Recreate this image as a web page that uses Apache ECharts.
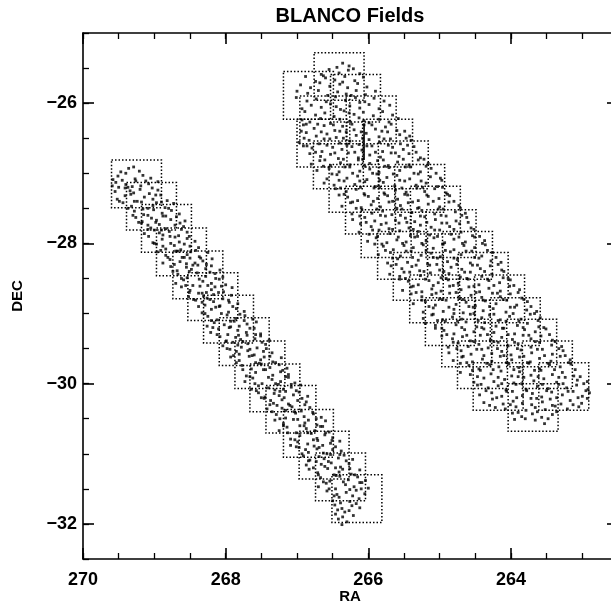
<!DOCTYPE html>
<html>
<head>
<meta charset="utf-8">
<script src="https://cdn.jsdelivr.net/npm/echarts@6/dist/echarts.min.js"></script>
<style>
  html, body { margin: 0; padding: 0; background: #fff; }
  #chart { width: 611px; height: 611px; }
</style>
</head>
<body>
<div id="chart"></div>
<script>
// Axis ranges and labelled ticks
const raRange = [262.5, 270];
const decRange = [-32.5, -25];
const raTicks = [270, 268, 266, 264];
const decTicks = [-32, -30, -28, -26];

// Field half sizes (deg RA, deg DEC)
const fieldHalfRA = 0.35;
const fieldHalfDec = 0.34;

// Field centres, eastern strip
const eastFieldRA  = [269.25, 269.04, 268.83, 268.62, 268.39, 268.18, 267.96, 267.74, 267.52, 267.31, 267.085, 266.84, 266.62, 266.39, 266.16];
const eastFieldDec = [-27.15, -27.47, -27.785, -28.12, -28.45, -28.76, -29.08, -29.40, -29.73, -30.06, -30.365, -30.71, -31.02, -31.33, -31.64];

// Field centres, western strip (inner and outer chains)
const westInnerRA  = [266.41, 266.18, 265.96, 265.73, 265.51, 265.28, 265.06, 264.84, 264.61, 264.39, 264.16, 263.94, 263.71, 263.49, 263.26];
const westInnerDec = [-25.62, -25.93, -26.24, -26.57, -26.88, -27.215, -27.525, -27.86, -28.17, -28.47, -28.79, -29.115, -29.42, -29.73, -30.04];
const westOuterRA  = [266.84, 266.61, 266.65, 266.42, 266.20, 265.97, 265.75, 265.52, 265.30, 265.07, 264.85, 264.62, 264.40, 264.18, 263.69];
const westOuterDec = [-25.89, -26.24, -26.57, -26.88, -27.215, -27.525, -27.86, -28.17, -28.47, -28.79, -29.115, -29.42, -29.73, -30.04, -30.34];

// Bleed streak in the western strip
const streakRA  = [266.06, 266.06];
const streakDec = [-26.29, -26.81];

// Stars, eastern strip [RA, DEC]
const eastStars = [
[269.36,-26.93],[269.21,-26.97],[269.47,-26.98],[269.29,-26.91],
[269.58,-27.09],[269.51,-27.04],[269.40,-27.00],[269.27,-27.08],[269.16,-27.03],[269.05,-27.07],
[269.59,-27.18],[269.54,-27.13],[269.40,-27.16],[269.26,-27.11],[269.19,-27.18],[269.08,-27.15],[268.95,-27.12],[269.31,-27.19],
[269.55,-27.26],[269.41,-27.21],[269.29,-27.28],[269.20,-27.23],[269.07,-27.29],[268.95,-27.24],[269.34,-27.25],
[269.52,-27.37],[269.41,-27.32],[269.28,-27.40],[269.14,-27.34],[269.02,-27.37],[268.91,-27.31],[268.82,-27.39],
[269.44,-27.42],[269.32,-27.47],[269.18,-27.41],[269.02,-27.46],[268.97,-27.42],[268.85,-27.49],[268.73,-27.43],[269.09,-27.50],
[269.28,-27.54],[269.15,-27.59],[269.01,-27.52],[268.89,-27.57],[268.76,-27.53],[268.65,-27.58],
[269.26,-27.63],[269.17,-27.69],[269.04,-27.64],[268.97,-27.67],[268.88,-27.61],[268.77,-27.66],[268.69,-27.62],[268.57,-27.68],
[269.18,-27.71],[269.05,-27.78],[268.93,-27.73],[268.84,-27.79],[268.71,-27.74],[268.59,-27.76],[269.09,-27.74],
[269.14,-27.86],[269.00,-27.81],[268.88,-27.88],[268.79,-27.83],[268.66,-27.89],[268.54,-27.84],[268.93,-27.85],
[269.02,-27.99],[268.89,-27.94],[268.78,-27.90],[268.65,-27.98],[268.54,-27.93],[268.43,-27.97],
[268.97,-28.01],[268.84,-28.08],[268.72,-28.03],[268.63,-28.09],[268.50,-28.04],[268.38,-28.06],[268.88,-28.04],
[268.96,-28.12],[268.84,-28.17],[268.70,-28.11],[268.54,-28.16],[268.49,-28.12],[268.37,-28.19],[268.25,-28.13],[268.61,-28.20],
[268.88,-28.28],[268.78,-28.23],[268.64,-28.26],[268.50,-28.21],[268.43,-28.28],[268.32,-28.25],[268.19,-28.22],[268.55,-28.29],
[268.77,-28.33],[268.68,-28.39],[268.55,-28.34],[268.48,-28.37],[268.39,-28.31],[268.28,-28.36],[268.20,-28.32],[268.08,-28.38],
[268.67,-28.44],[268.54,-28.49],[268.40,-28.42],[268.28,-28.47],[268.15,-28.43],[268.04,-28.48],
[268.70,-28.57],[268.59,-28.52],[268.46,-28.60],[268.32,-28.54],[268.20,-28.57],[268.09,-28.51],[268.00,-28.59],
[268.62,-28.62],[268.50,-28.67],[268.36,-28.61],[268.20,-28.66],[268.15,-28.62],[268.03,-28.69],[267.91,-28.63],[268.27,-28.70],
[268.52,-28.76],[268.38,-28.71],[268.26,-28.78],[268.17,-28.73],[268.04,-28.79],[267.92,-28.74],[268.31,-28.75],
[268.42,-28.81],[268.29,-28.88],[268.17,-28.83],[268.08,-28.89],[267.95,-28.84],[267.83,-28.86],[268.33,-28.84],
[268.33,-28.99],[268.20,-28.94],[268.09,-28.90],[267.96,-28.98],[267.85,-28.93],[267.74,-28.97],
[268.25,-29.04],[268.12,-29.09],[267.98,-29.02],[267.86,-29.07],[267.73,-29.03],[267.62,-29.08],
[268.26,-29.18],[268.16,-29.13],[268.02,-29.16],[267.88,-29.11],[267.81,-29.18],[267.70,-29.15],[267.57,-29.12],[267.93,-29.19],
[268.21,-29.27],[268.10,-29.22],[267.97,-29.30],[267.83,-29.24],[267.71,-29.27],[267.60,-29.21],[267.51,-29.29],
[268.08,-29.33],[267.99,-29.39],[267.86,-29.34],[267.79,-29.37],[267.70,-29.31],[267.59,-29.36],[267.51,-29.32],[267.39,-29.38],
[268.04,-29.46],[267.90,-29.41],[267.78,-29.48],[267.69,-29.43],[267.56,-29.49],[267.44,-29.44],[267.83,-29.45],
[267.94,-29.51],[267.81,-29.58],[267.69,-29.53],[267.60,-29.59],[267.47,-29.54],[267.35,-29.56],[267.85,-29.54],
[267.93,-29.62],[267.81,-29.67],[267.67,-29.61],[267.51,-29.66],[267.46,-29.62],[267.34,-29.69],[267.22,-29.63],[267.58,-29.70],
[267.77,-29.74],[267.64,-29.79],[267.50,-29.72],[267.38,-29.77],[267.25,-29.73],[267.14,-29.78],
[267.71,-29.89],[267.58,-29.84],[267.47,-29.80],[267.34,-29.88],[267.23,-29.83],[267.12,-29.87],
[267.73,-29.97],[267.62,-29.92],[267.49,-30.00],[267.35,-29.94],[267.23,-29.97],[267.12,-29.91],[267.03,-29.99],
[267.64,-30.08],[267.54,-30.03],[267.40,-30.06],[267.26,-30.01],[267.19,-30.08],[267.08,-30.05],[266.95,-30.02],[267.31,-30.09],
[267.54,-30.13],[267.45,-30.19],[267.32,-30.14],[267.25,-30.17],[267.16,-30.11],[267.05,-30.16],[266.97,-30.12],[266.85,-30.18],
[267.46,-30.21],[267.33,-30.28],[267.21,-30.23],[267.12,-30.29],[266.99,-30.24],[266.87,-30.26],[267.37,-30.24],
[267.42,-30.36],[267.28,-30.31],[267.16,-30.38],[267.07,-30.33],[266.94,-30.39],[266.82,-30.34],[267.21,-30.35],
[267.29,-30.44],[267.16,-30.49],[267.02,-30.42],[266.90,-30.47],[266.77,-30.43],[266.66,-30.48],
[267.31,-30.52],[267.19,-30.57],[267.05,-30.51],[266.89,-30.56],[266.84,-30.52],[266.72,-30.59],[266.60,-30.53],[266.96,-30.60],
[267.25,-30.67],[267.14,-30.62],[267.01,-30.70],[266.87,-30.64],[266.75,-30.67],[266.64,-30.61],[266.55,-30.69],
[267.09,-30.79],[266.96,-30.74],[266.85,-30.70],[266.72,-30.78],[266.61,-30.73],[266.50,-30.77],
[267.09,-30.88],[266.99,-30.83],[266.85,-30.86],[266.71,-30.81],[266.64,-30.88],[266.53,-30.85],[266.40,-30.82],[266.76,-30.89],
[266.97,-30.91],[266.84,-30.98],[266.72,-30.93],[266.63,-30.99],[266.50,-30.94],[266.38,-30.96],[266.88,-30.94],
[266.91,-31.03],[266.82,-31.09],[266.69,-31.04],[266.62,-31.07],[266.53,-31.01],[266.42,-31.06],[266.34,-31.02],[266.22,-31.08],
[266.87,-31.16],[266.73,-31.11],[266.61,-31.18],[266.52,-31.13],[266.39,-31.19],[266.27,-31.14],[266.66,-31.15],
[266.83,-31.22],[266.71,-31.27],[266.57,-31.21],[266.41,-31.26],[266.36,-31.22],[266.24,-31.29],[266.12,-31.23],[266.48,-31.30],
[266.67,-31.34],[266.54,-31.39],[266.40,-31.32],[266.28,-31.37],[266.15,-31.33],[266.04,-31.38],
[266.70,-31.47],[266.59,-31.42],[266.46,-31.50],[266.32,-31.44],[266.20,-31.47],[266.09,-31.41],[266.00,-31.49],
[266.58,-31.53],[266.44,-31.58],[266.31,-31.55],[266.17,-31.52],[266.05,-31.57],
[266.50,-31.67],[266.41,-31.62],[266.26,-31.68],[266.13,-31.64],
[266.47,-31.73],[266.37,-31.78],[266.23,-31.74],[266.12,-31.77],
[266.46,-31.86],[266.33,-31.83],[266.21,-31.88],
[266.42,-31.93],[266.30,-31.97],[266.37,-32.01]
];

// Further stars, eastern strip, between the rows above
const eastStarsFaint = [
[269.45,-27.10],[269.12,-27.11],[269.37,-27.20],[269.03,-27.21],[269.50,-27.20],[269.33,-27.30],[268.98,-27.31],
[269.49,-27.40],[269.24,-27.40],[268.90,-27.41],[269.37,-27.50],[269.16,-27.51],[268.80,-27.50],
[269.30,-27.60],[269.09,-27.60],[268.84,-27.61],[269.22,-27.70],[268.98,-27.70],[268.64,-27.71],
[269.09,-27.80],[268.90,-27.81],[268.62,-27.80],[269.08,-27.90],[268.71,-27.91],[268.51,-27.90],
[269.00,-28.00],[268.77,-28.00],[268.58,-28.01],[268.91,-28.10],[268.67,-28.11],[268.42,-28.10],
[268.81,-28.20],[268.58,-28.20],[268.35,-28.21],[268.72,-28.30],[268.46,-28.31],[268.27,-28.30],
[268.74,-28.40],[268.51,-28.40],[268.22,-28.41],[268.62,-28.50],[268.37,-28.51],[268.14,-28.50],
[268.56,-28.60],[268.25,-28.60],[268.06,-28.61],[268.51,-28.70],[268.33,-28.71],[268.10,-28.70],
[268.45,-28.80],[268.22,-28.80],[267.96,-28.81],[268.38,-28.90],[268.14,-28.91],[267.90,-28.90],
[268.29,-29.00],[268.06,-29.00],[267.80,-29.01],[268.20,-29.10],[267.93,-29.11],[267.74,-29.10],
[268.18,-29.20],[267.95,-29.20],[267.66,-29.21],[268.12,-29.30],[267.82,-29.31],[267.58,-29.30],
[268.00,-29.40],[267.76,-29.40],[267.49,-29.41],[267.98,-29.50],[267.66,-29.51],[267.43,-29.50],
[267.89,-29.60],[267.63,-29.60],[267.38,-29.61],[267.85,-29.70],[267.53,-29.71],[267.30,-29.70],
[267.76,-29.80],[267.44,-29.80],[267.20,-29.81],[267.66,-29.90],[267.40,-29.91],[267.16,-29.90],
[267.59,-30.00],[267.30,-30.00],[267.08,-30.01],[267.57,-30.10],[267.24,-30.11],[267.01,-30.10],
[267.50,-30.20],[267.18,-30.20],[266.93,-30.21],[267.38,-30.30],[267.10,-30.31],[266.89,-30.30],
[267.35,-30.40],[267.04,-30.40],[266.78,-30.41],[267.24,-30.50],[266.99,-30.51],[266.73,-30.50],
[267.19,-30.60],[266.90,-30.60],[266.67,-30.61],[267.13,-30.70],[266.80,-30.71],[266.60,-30.70],
[267.03,-30.80],[266.77,-30.80],[266.51,-30.81],[267.01,-30.90],[266.69,-30.91],[266.46,-30.90],
[266.93,-31.00],[266.58,-31.00],[266.40,-31.01],[266.84,-31.10],[266.56,-31.11],[266.31,-31.10],
[266.77,-31.20],[266.46,-31.20],[266.26,-31.21],[266.70,-31.30],[266.45,-31.31],[266.19,-31.30],
[266.63,-31.40],[266.35,-31.40],[266.12,-31.41],[266.55,-31.50],[266.26,-31.51],[266.10,-31.50],
[266.48,-31.60],[266.22,-31.60],[266.39,-31.70],[266.17,-31.71],[266.43,-31.80],[266.27,-31.81],[266.36,-31.90]
];

// Stars, western strip [RA, DEC]
const westStars = [
[266.27,-25.47],[266.44,-25.49],[266.36,-25.43],
[266.12,-25.58],[266.28,-25.53],[266.41,-25.57],[266.55,-25.52],[266.66,-25.59],[266.21,-25.51],
[266.07,-25.63],[266.19,-25.68],[266.33,-25.62],[266.47,-25.67],[266.60,-25.64],[266.74,-25.69],[266.88,-25.62],[266.63,-25.61],
[266.02,-25.77],[266.15,-25.72],[266.29,-25.78],[266.40,-25.73],[266.54,-25.76],[266.68,-25.71],[266.81,-25.78],[266.95,-25.74],[266.36,-25.70],
[265.90,-25.83],[266.04,-25.88],[266.17,-25.82],[266.31,-25.87],[266.43,-25.84],[266.57,-25.89],[266.70,-25.82],[266.85,-25.86],[267.00,-25.83],[266.24,-25.89],
[265.78,-25.97],[265.92,-25.93],[266.05,-25.98],[266.18,-25.92],[266.32,-25.96],[266.46,-25.91],[266.59,-25.98],[266.73,-25.94],[266.86,-25.97],[267.01,-25.92],[266.12,-25.99],
[265.70,-26.03],[265.85,-26.08],[265.99,-26.02],[266.12,-26.07],[266.26,-26.04],[266.39,-26.09],[266.53,-26.01],[266.66,-26.06],[266.80,-26.03],[266.93,-26.08],[266.45,-26.05],
[265.66,-26.17],[265.80,-26.12],[265.93,-26.18],[266.07,-26.13],[266.20,-26.16],[266.34,-26.11],[266.48,-26.19],[266.61,-26.14],[266.74,-26.17],[266.89,-26.12],[266.27,-26.14],
[265.58,-26.22],[265.71,-26.27],[265.85,-26.23],[265.99,-26.28],[266.13,-26.21],[266.26,-26.26],[266.40,-26.23],[266.53,-26.29],[266.67,-26.22],[266.82,-26.27],[266.93,-26.24],[266.06,-26.25],
[265.60,-26.39],[265.76,-26.34],[265.90,-26.37],[266.06,-26.31],[266.20,-26.38],[266.36,-26.33],[266.47,-26.39],[266.62,-26.32],[266.76,-26.36],[266.91,-26.31],
[265.56,-26.45],[265.73,-26.41],[265.85,-26.48],[266.03,-26.43],[266.17,-26.46],[266.31,-26.41],[266.45,-26.49],[266.58,-26.44],[266.73,-26.47],[266.87,-26.42],[265.42,-26.47],
[265.40,-26.53],[265.55,-26.58],[265.69,-26.51],[265.84,-26.56],[265.99,-26.52],[266.13,-26.59],[266.26,-26.54],[266.40,-26.57],[266.54,-26.51],[266.69,-26.58],[266.83,-26.53],[266.97,-26.56],
[265.36,-26.62],[265.51,-26.66],[265.66,-26.63],[265.80,-26.69],[265.95,-26.61],[266.09,-26.67],[266.23,-26.62],[266.37,-26.66],[266.50,-26.63],[266.65,-26.69],[266.79,-26.64],[266.91,-26.61],
[265.27,-26.78],[265.43,-26.72],[265.57,-26.76],[265.68,-26.71],[265.83,-26.77],[265.98,-26.74],[266.14,-26.78],[266.28,-26.71],[266.42,-26.79],[266.53,-26.73],[266.67,-26.76],[266.82,-26.72],
[265.16,-26.86],[265.30,-26.81],[265.43,-26.88],[265.59,-26.84],[265.72,-26.89],[265.87,-26.82],[265.98,-26.86],[266.14,-26.81],[266.26,-26.88],[266.39,-26.85],[266.53,-26.89],[266.68,-26.82],[266.80,-26.87],
[265.12,-26.93],[265.27,-26.98],[265.41,-26.91],[265.56,-26.96],[265.71,-26.92],[265.85,-26.99],[265.98,-26.94],[266.12,-26.97],[266.26,-26.91],[266.41,-26.98],[266.55,-26.93],[266.72,-26.96],
[265.13,-27.05],[265.30,-27.01],[265.42,-27.08],[265.60,-27.03],[265.74,-27.06],[265.88,-27.01],[266.02,-27.09],[266.15,-27.04],[266.30,-27.07],[266.44,-27.02],[266.58,-27.08],[264.99,-27.07],
[265.03,-27.19],[265.19,-27.14],[265.33,-27.17],[265.49,-27.11],[265.63,-27.18],[265.79,-27.13],[265.90,-27.19],[266.05,-27.12],[266.19,-27.16],[266.34,-27.11],[266.48,-27.17],[266.62,-27.14],
[264.91,-27.28],[265.07,-27.22],[265.21,-27.26],[265.32,-27.21],[265.47,-27.27],[265.62,-27.24],[265.78,-27.28],[265.92,-27.21],[266.06,-27.29],[266.17,-27.23],[266.31,-27.26],[266.46,-27.22],
[264.86,-27.32],[265.01,-27.36],[265.16,-27.33],[265.30,-27.39],[265.45,-27.31],[265.59,-27.37],[265.73,-27.32],[265.87,-27.36],[266.00,-27.33],[266.15,-27.39],[266.29,-27.34],[266.41,-27.31],
[264.73,-27.46],[264.87,-27.41],[265.00,-27.48],[265.16,-27.44],[265.29,-27.49],[265.44,-27.42],[265.55,-27.46],[265.71,-27.41],[265.83,-27.48],[265.96,-27.45],[266.10,-27.49],[266.25,-27.42],[266.37,-27.47],
[264.78,-27.55],[264.95,-27.51],[265.07,-27.58],[265.25,-27.53],[265.39,-27.56],[265.53,-27.51],[265.67,-27.59],[265.80,-27.54],[265.95,-27.57],[266.09,-27.52],[266.23,-27.58],[264.64,-27.57],
[264.62,-27.63],[264.77,-27.68],[264.91,-27.61],[265.06,-27.66],[265.21,-27.62],[265.35,-27.69],[265.48,-27.64],[265.62,-27.67],[265.76,-27.61],[265.91,-27.68],[266.05,-27.63],[266.22,-27.66],
[264.56,-27.78],[264.72,-27.72],[264.86,-27.76],[264.97,-27.71],[265.12,-27.77],[265.27,-27.74],[265.43,-27.78],[265.57,-27.71],[265.71,-27.79],[265.82,-27.73],[265.96,-27.76],[266.11,-27.72],
[264.54,-27.89],[264.70,-27.84],[264.84,-27.87],[265.00,-27.81],[265.14,-27.88],[265.30,-27.83],[265.41,-27.89],[265.56,-27.82],[265.70,-27.86],[265.85,-27.81],[265.99,-27.87],[266.13,-27.84],
[264.37,-27.96],[264.51,-27.91],[264.64,-27.98],[264.80,-27.94],[264.93,-27.99],[265.08,-27.92],[265.19,-27.96],[265.35,-27.91],[265.47,-27.98],[265.60,-27.95],[265.74,-27.99],[265.89,-27.92],[266.01,-27.97],
[264.36,-28.02],[264.51,-28.06],[264.66,-28.03],[264.80,-28.09],[264.95,-28.01],[265.09,-28.07],[265.23,-28.02],[265.37,-28.06],[265.50,-28.03],[265.65,-28.09],[265.79,-28.04],[265.91,-28.01],
[264.26,-28.13],[264.41,-28.18],[264.55,-28.11],[264.70,-28.16],[264.85,-28.12],[264.99,-28.19],[265.12,-28.14],[265.26,-28.17],[265.40,-28.11],[265.55,-28.18],[265.69,-28.13],[265.86,-28.16],
[264.28,-28.25],[264.45,-28.21],[264.57,-28.28],[264.75,-28.23],[264.89,-28.26],[265.03,-28.21],[265.17,-28.29],[265.30,-28.24],[265.45,-28.27],[265.59,-28.22],[265.73,-28.28],[264.14,-28.27],
[264.13,-28.38],[264.29,-28.32],[264.43,-28.36],[264.54,-28.31],[264.69,-28.37],[264.84,-28.34],[265.00,-28.38],[265.14,-28.31],[265.28,-28.39],[265.39,-28.33],[265.53,-28.36],[265.68,-28.32],
[264.11,-28.49],[264.27,-28.44],[264.41,-28.47],[264.57,-28.41],[264.71,-28.48],[264.87,-28.43],[264.98,-28.49],[265.13,-28.42],[265.27,-28.46],[265.42,-28.41],[265.56,-28.47],[265.70,-28.44],
[264.01,-28.52],[264.16,-28.56],[264.31,-28.53],[264.45,-28.59],[264.60,-28.51],[264.74,-28.57],[264.88,-28.52],[265.02,-28.56],[265.15,-28.53],[265.30,-28.59],[265.44,-28.54],[265.56,-28.51],
[263.88,-28.66],[264.02,-28.61],[264.15,-28.68],[264.31,-28.64],[264.44,-28.69],[264.59,-28.62],[264.70,-28.66],[264.86,-28.61],[264.98,-28.68],[265.11,-28.65],[265.25,-28.69],[265.40,-28.62],[265.52,-28.67],
[263.85,-28.78],[264.01,-28.72],[264.15,-28.76],[264.26,-28.71],[264.41,-28.77],[264.56,-28.74],[264.72,-28.78],[264.86,-28.71],[265.00,-28.79],[265.11,-28.73],[265.25,-28.76],[265.40,-28.72],
[263.77,-28.83],[263.92,-28.88],[264.06,-28.81],[264.21,-28.86],[264.36,-28.82],[264.50,-28.89],[264.63,-28.84],[264.77,-28.87],[264.91,-28.81],[265.06,-28.88],[265.20,-28.83],[265.37,-28.86],
[263.78,-28.95],[263.95,-28.91],[264.07,-28.98],[264.25,-28.93],[264.39,-28.96],[264.53,-28.91],[264.67,-28.99],[264.80,-28.94],[264.95,-28.97],[265.09,-28.92],[265.23,-28.98],[263.64,-28.97],
[263.59,-29.06],[263.73,-29.01],[263.86,-29.08],[264.02,-29.04],[264.15,-29.09],[264.30,-29.02],[264.41,-29.06],[264.57,-29.01],[264.69,-29.08],[264.82,-29.05],[264.96,-29.09],[265.11,-29.02],[265.23,-29.07],
[263.61,-29.19],[263.77,-29.14],[263.91,-29.17],[264.07,-29.11],[264.21,-29.18],[264.37,-29.13],[264.48,-29.19],[264.63,-29.12],[264.77,-29.16],[264.92,-29.11],[265.06,-29.17],[265.20,-29.14],
[263.51,-29.22],[263.66,-29.26],[263.81,-29.23],[263.95,-29.29],[264.10,-29.21],[264.24,-29.27],[264.38,-29.22],[264.52,-29.26],[264.65,-29.23],[264.80,-29.29],[264.94,-29.24],[265.06,-29.21],
[263.42,-29.38],[263.58,-29.32],[263.72,-29.36],[263.83,-29.31],[263.98,-29.37],[264.13,-29.34],[264.29,-29.38],[264.43,-29.31],[264.57,-29.39],[264.68,-29.33],[264.82,-29.36],[264.97,-29.32],
[263.43,-29.45],[263.60,-29.41],[263.72,-29.48],[263.90,-29.43],[264.04,-29.46],[264.18,-29.41],[264.32,-29.49],[264.45,-29.44],[264.60,-29.47],[264.74,-29.42],[264.88,-29.48],[263.29,-29.47],
[263.27,-29.53],[263.42,-29.58],[263.56,-29.51],[263.71,-29.56],[263.86,-29.52],[264.00,-29.59],[264.13,-29.54],[264.27,-29.57],[264.41,-29.51],[264.56,-29.58],[264.70,-29.53],[264.87,-29.56],
[263.17,-29.66],[263.31,-29.61],[263.44,-29.68],[263.60,-29.64],[263.73,-29.69],[263.88,-29.62],[263.99,-29.66],[264.15,-29.61],[264.27,-29.68],[264.40,-29.65],[264.54,-29.69],[264.69,-29.62],[264.81,-29.67],
[263.16,-29.72],[263.31,-29.76],[263.46,-29.73],[263.60,-29.79],[263.75,-29.71],[263.89,-29.77],[264.03,-29.72],[264.17,-29.76],[264.30,-29.73],[264.45,-29.79],[264.59,-29.74],[264.71,-29.71],
[263.12,-29.89],[263.28,-29.84],[263.42,-29.87],[263.58,-29.81],[263.72,-29.88],[263.88,-29.83],[263.99,-29.89],[264.14,-29.82],[264.28,-29.86],[264.43,-29.81],[264.57,-29.87],[264.71,-29.84],
[263.07,-29.95],[263.24,-29.91],[263.36,-29.98],[263.54,-29.93],[263.68,-29.96],[263.82,-29.91],[263.96,-29.99],[264.09,-29.94],[264.24,-29.97],[264.38,-29.92],[264.52,-29.98],[262.93,-29.97],
[262.92,-30.08],[263.08,-30.02],[263.22,-30.06],[263.33,-30.01],[263.48,-30.07],[263.63,-30.04],[263.79,-30.08],[263.93,-30.01],[264.07,-30.09],[264.18,-30.03],[264.32,-30.06],[264.47,-30.02],
[262.90,-30.13],[263.00,-30.18],[263.13,-30.11],[263.28,-30.16],[263.43,-30.12],[263.57,-30.19],[263.70,-30.14],[263.84,-30.17],[263.98,-30.11],[264.13,-30.18],[264.27,-30.13],[264.44,-30.16],
[262.93,-30.21],[263.01,-30.28],[263.17,-30.24],[263.30,-30.29],[263.45,-30.22],[263.56,-30.26],[263.72,-30.21],[263.84,-30.28],[263.97,-30.25],[264.11,-30.29],[264.26,-30.22],[264.38,-30.27],
[263.05,-30.33],[263.21,-30.36],[263.38,-30.32],[263.52,-30.37],[263.66,-30.34],[263.79,-30.38],[263.93,-30.33],[264.08,-30.36],[264.22,-30.34],
[263.42,-30.44],[263.57,-30.48],[263.70,-30.43],[263.85,-30.47],[263.98,-30.42],
[263.66,-30.52],[263.95,-30.51],[263.53,-30.57]
];

// Further stars, western strip, between the rows above
const westStarsFaint = [
[265.68,-26.30],[265.95,-26.31],[266.23,-26.30],[266.49,-26.31],[266.71,-26.30],[266.87,-26.30],
[265.49,-26.40],[265.81,-26.40],[266.10,-26.41],[266.40,-26.40],[266.66,-26.41],[266.94,-26.40],
[265.47,-26.50],[265.78,-26.51],[266.08,-26.50],[266.35,-26.50],[266.62,-26.51],[266.90,-26.50],
[265.45,-26.60],[265.72,-26.60],[266.02,-26.61],[266.30,-26.60],[266.58,-26.60],[266.86,-26.61],
[265.33,-26.70],[265.62,-26.71],[265.90,-26.70],[266.19,-26.70],[266.47,-26.71],[266.74,-26.70],
[265.22,-26.80],[265.51,-26.80],[265.79,-26.81],[266.08,-26.80],[266.35,-26.80],[266.61,-26.81],
[265.19,-26.90],[265.48,-26.91],[265.77,-26.90],[266.05,-26.90],[266.33,-26.91],[266.63,-26.90],
[265.05,-27.00],[265.36,-27.00],[265.65,-27.01],[265.94,-27.00],[266.22,-27.00],[266.51,-27.01],
[264.97,-27.10],[265.26,-27.11],[265.56,-27.10],[265.84,-27.10],[266.12,-27.11],[266.41,-27.10],
[264.96,-27.20],[265.24,-27.20],[265.53,-27.21],[265.84,-27.20],[266.11,-27.20],[266.39,-27.21],
[264.89,-27.30],[265.18,-27.31],[265.49,-27.30],[265.77,-27.30],[266.05,-27.31],[266.34,-27.30],
[264.80,-27.40],[265.09,-27.40],[265.38,-27.41],[265.66,-27.40],[265.93,-27.40],[266.22,-27.41],
[264.71,-27.50],[265.02,-27.51],[265.31,-27.50],[265.60,-27.50],[265.88,-27.51],[266.17,-27.50],
[264.69,-27.60],[264.98,-27.60],[265.27,-27.61],[265.55,-27.60],[265.83,-27.60],[266.12,-27.61],
[264.60,-27.70],[264.90,-27.71],[265.18,-27.70],[265.46,-27.70],[265.75,-27.71],[266.03,-27.70],
[264.52,-27.80],[264.80,-27.80],[265.07,-27.81],[265.37,-27.80],[265.66,-27.80],[265.94,-27.81],
[264.44,-27.90],[264.73,-27.91],[265.03,-27.90],[265.31,-27.90],[265.58,-27.91],[265.87,-27.90],
[264.40,-28.00],[264.68,-28.00],[264.96,-28.01],[265.25,-28.00],[265.52,-28.00],[265.81,-28.01],
[264.33,-28.10],[264.63,-28.11],[264.92,-28.10],[265.19,-28.10],[265.47,-28.11],[265.76,-28.10],
[264.21,-28.20],[264.51,-28.20],[264.80,-28.21],[265.09,-28.20],[265.38,-28.20],[265.66,-28.21],
[264.18,-28.30],[264.47,-28.31],[264.76,-28.30],[265.04,-28.30],[265.33,-28.31],[265.61,-28.30],
[264.10,-28.40],[264.37,-28.40],[264.65,-28.41],[264.94,-28.40],[265.22,-28.40],[265.50,-28.41],
[264.04,-28.50],[264.33,-28.51],[264.62,-28.50],[264.91,-28.50],[265.20,-28.51],[265.48,-28.50],
[263.96,-28.60],[264.24,-28.60],[264.52,-28.61],[264.81,-28.60],[265.09,-28.60],[265.37,-28.61],
[263.90,-28.70],[264.19,-28.71],[264.49,-28.70],[264.77,-28.70],[265.05,-28.71],[265.33,-28.70],
[263.82,-28.80],[264.11,-28.80],[264.39,-28.81],[264.67,-28.80],[264.96,-28.80],[265.25,-28.81],
[263.72,-28.90],[264.01,-28.91],[264.30,-28.90],[264.59,-28.90],[264.87,-28.91],[265.15,-28.90],
[263.67,-29.00],[263.97,-29.00],[264.24,-29.01],[264.52,-29.00],[264.80,-29.00],[265.09,-29.01],
[263.62,-29.10],[263.89,-29.11],[264.18,-29.10],[264.46,-29.10],[264.75,-29.11],[265.03,-29.10],
[263.54,-29.20],[263.83,-29.20],[264.12,-29.21],[264.41,-29.20],[264.69,-29.20],[264.97,-29.21],
[263.46,-29.30],[263.75,-29.31],[264.04,-29.30],[264.33,-29.30],[264.62,-29.31],[264.90,-29.30],
[263.38,-29.40],[263.66,-29.40],[263.95,-29.41],[264.24,-29.40],[264.52,-29.40],[264.81,-29.41],
[263.33,-29.50],[263.63,-29.51],[263.91,-29.50],[264.19,-29.50],[264.48,-29.51],[264.76,-29.50],
[263.24,-29.60],[263.53,-29.60],[263.82,-29.61],[264.10,-29.60],[264.38,-29.60],[264.67,-29.61],
[263.19,-29.70],[263.48,-29.71],[263.77,-29.70],[264.06,-29.70],[264.34,-29.71],[264.62,-29.70],
[263.10,-29.80],[263.39,-29.80],[263.67,-29.81],[263.96,-29.80],[264.25,-29.80],[264.54,-29.81],
[263.03,-29.90],[263.33,-29.91],[263.62,-29.90],[263.90,-29.90],[264.18,-29.91],[264.47,-29.90],
[262.98,-30.00],[263.27,-30.00],[263.56,-30.01],[263.85,-30.00],[264.13,-30.00],[264.42,-30.01],
[262.95,-30.10],[263.20,-30.11],[263.50,-30.10],[263.78,-30.10],[264.06,-30.11],[264.35,-30.10],
[263.06,-30.20],[263.36,-30.20],[263.64,-30.21],[263.92,-30.20],[264.20,-30.20],
[263.13,-30.30],[263.42,-30.31],[263.71,-30.30],[264.01,-30.30],[264.30,-30.31],
[263.36,-30.40],[263.63,-30.40],[263.90,-30.41],[263.48,-30.50],[263.80,-30.50]
];

// Build series data from the named arrays
function zipFields(ra, dec) { return ra.map((r, i) => [r, dec[i]]); }
const fieldData = zipFields(eastFieldRA, eastFieldDec)
  .concat(zipFields(westInnerRA, westInnerDec))
  .concat(zipFields(westOuterRA, westOuterDec));
const starData = eastStars.concat(eastStarsFaint, westStars, westStarsFaint);

const FONT = '"Liberation Sans", Arial, sans-serif';
const INK = '#000';

function fieldBox(params, api) {
  const ra = api.value(0), dec = api.value(1);
  const a = api.coord([ra + fieldHalfRA, dec + fieldHalfDec]);
  const b = api.coord([ra - fieldHalfRA, dec - fieldHalfDec]);
  return {
    type: 'rect',
    shape: {
      x: Math.min(a[0], b[0]), y: Math.min(a[1], b[1]),
      width: Math.abs(b[0] - a[0]), height: Math.abs(b[1] - a[1])
    },
    style: { fill: 'none', stroke: INK, lineWidth: 1.5, lineDash: [1.5, 2.0] }
  };
}

const minus = v => String(v).replace('-', '\u2212');

function majorAxis(dim, position, range, ticks, withLabels, extra) {
  return Object.assign({
    type: 'value', position, min: range[0], max: range[1],
    axisLine: { show: true, onZero: false, lineStyle: { color: INK, width: 1.6 } },
    axisTick: { show: true, inside: true, length: 11, customValues: ticks, lineStyle: { color: INK, width: 1.6 } },
    axisLabel: withLabels ? {
      show: true, customValues: ticks, color: INK, fontFamily: FONT, fontWeight: 'bold',
      fontSize: 18, margin: dim === 'x' ? 12 : 6, formatter: minus
    } : { show: false },
    splitLine: { show: false }, minorTick: { show: false }
  }, extra || {});
}
function minorAxis(position, range, extra) {
  return Object.assign({
    type: 'value', position, min: range[0], max: range[1], interval: 0.5,
    axisLine: { show: false },
    axisTick: { show: true, inside: true, length: 6, lineStyle: { color: INK, width: 1.3 } },
    axisLabel: { show: false }, splitLine: { show: false }
  }, extra || {});
}

const chart = echarts.init(document.getElementById('chart'), null, { renderer: 'canvas' });
chart.setOption({
  animation: false,
  backgroundColor: '#fff',
  grid: { left: 83, top: 33, width: 535, height: 526, outerBoundsMode: 'none', containLabel: false },
  xAxis: [
    majorAxis('x', 'bottom', raRange, raTicks, true, { inverse: true }),
    minorAxis('bottom', raRange, { inverse: true }),
    majorAxis('x', 'top', raRange, raTicks, false, { inverse: true }),
    minorAxis('top', raRange, { inverse: true })
  ],
  yAxis: [
    majorAxis('y', 'left', decRange, decTicks, true),
    minorAxis('left', decRange),
    majorAxis('y', 'right', decRange, decTicks, false),
    minorAxis('right', decRange)
  ],
  graphic: [
    { type: 'text', x: 350, y: 16, style: { text: 'BLANCO Fields', align: 'center', verticalAlign: 'middle', font: 'bold 20px ' + FONT, fill: INK } },
    { type: 'text', x: 350, y: 597, style: { text: 'RA', align: 'center', verticalAlign: 'middle', font: 'bold 15px ' + FONT, fill: INK } },
    { type: 'text', x: 18, y: 296, rotation: Math.PI / 2, style: { text: 'DEC', align: 'center', verticalAlign: 'middle', font: 'bold 15px ' + FONT, fill: INK } }
  ],
  series: [
    { type: 'custom', name: 'Fields', xAxisIndex: 0, yAxisIndex: 0, renderItem: fieldBox, data: fieldData, silent: true, z: 3 },
    { type: 'scatter', name: 'Stars', xAxisIndex: 0, yAxisIndex: 0, symbol: 'rect', symbolSize: 2.8,
      itemStyle: { color: INK }, data: starData, silent: true, z: 4 },
    { type: 'line', name: 'Streak', xAxisIndex: 0, yAxisIndex: 0, symbol: 'none',
      lineStyle: { color: INK, width: 1.6 }, data: zipFields(streakRA, streakDec), silent: true, z: 4 }
  ]
});
</script>
</body>
</html>
